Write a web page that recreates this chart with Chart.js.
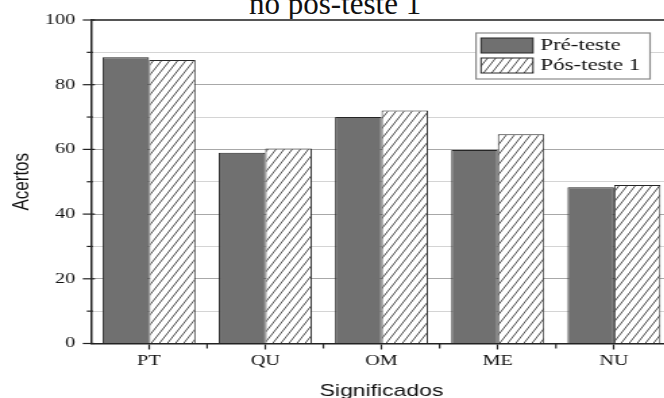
<!DOCTYPE html>
<html>
<head>
<meta charset="utf-8">
<script src="https://cdn.jsdelivr.net/npm/chart.js@4/dist/chart.umd.min.js"></script>
<style>
  html, body { margin: 0; padding: 0; background: #fff; }
  body { width: 664px; height: 398px; overflow: hidden; position: relative; }
  #caption { position: absolute; left: 249px; top: -12.5px; font: 31px/31px "Liberation Serif", "Times New Roman", serif; color: #111; white-space: nowrap; }
  #wrap { position: absolute; left: 0; top: 0; width: 500px; height: 410px; transform: scaleX(1.35); transform-origin: 0 0; }
</style>
</head>
<body>
<div id="caption">no pós-teste 1</div>
<div id="wrap"><canvas id="c"></canvas></div>
<script>
const categories = ["PT", "QU", "OM", "ME", "NU"];
const seriesNames = ["Pré-teste", "Pós-teste 1"];
const preTeste = [88.5, 59.0, 70.0, 59.8, 48.3];
const posTeste1 = [87.6, 60.3, 72.0, 64.7, 49.0];
const yTickValues = [0, 20, 40, 60, 80, 100];
const xAxisTitle = "Significados";
const yAxisTitle = "Acertos";

function makeHatch() {
  const w = 6, h = 10;
  const c = document.createElement('canvas');
  c.width = w; c.height = h;
  const g = c.getContext('2d');
  g.fillStyle = '#ffffff';
  g.fillRect(0, 0, w, h);
  g.strokeStyle = '#3a3a3a';
  g.lineWidth = 0.9;
  for (const off of [-w, 0, w]) {
    g.beginPath();
    g.moveTo(off, h);
    g.lineTo(off + w, 0);
    g.stroke();
  }
  return g.createPattern(c, 'repeat');
}
const hatch = makeHatch();
const PRE_COLOR = '#707070';
const EDGE = '#262626';

const framePlugin = {
  id: 'frame',
  afterDraw(chart) {
    const ctx = chart.ctx;
    const a = chart.chartArea;
    const y = chart.scales.y, x = chart.scales.x;
    ctx.save();
    ctx.strokeStyle = '#555';
    ctx.lineWidth = 2;
    ctx.beginPath();
    ctx.moveTo(a.left, a.top);
    ctx.lineTo(a.right + 5, a.top);
    ctx.stroke();
    ctx.strokeStyle = '#222';
    ctx.lineWidth = 1.2;
    for (let v = 0; v <= 100; v += 10) {
      const py = y.getPixelForValue(v);
      const major = yTickValues.includes(v);
      ctx.beginPath();
      ctx.moveTo(a.left - (major ? 6 : 3), py);
      ctx.lineTo(a.left + (major ? 3 : 1.5), py);
      ctx.stroke();
    }
    for (let i = 0; i < categories.length - 1; i++) {
      const px = x.getPixelForValue(i + 0.5);
      ctx.beginPath();
      ctx.moveTo(px, a.bottom);
      ctx.lineTo(px, a.bottom + 5);
      ctx.stroke();
    }
    const bx = 352.6, by = 33, bw = 128.9, bh = 46;
    ctx.fillStyle = '#fff';
    ctx.fillRect(bx, by, bw, bh);
    ctx.strokeStyle = '#8a8a8a';
    ctx.lineWidth = 1.2;
    ctx.strokeRect(bx, by, bw, bh);
    const fills = [PRE_COLOR, hatch];
    const rows = [38, 58];
    ctx.font = '17px "Liberation Serif", "Times New Roman", serif';
    ctx.textBaseline = 'middle';
    ctx.textAlign = 'left';
    chart.data.datasets.forEach((ds, i) => {
      ctx.fillStyle = fills[i];
      ctx.fillRect(356.3, rows[i], 38.5, 15);
      ctx.strokeStyle = EDGE;
      ctx.lineWidth = 1;
      ctx.strokeRect(356.3, rows[i], 38.5, 15);
      ctx.fillStyle = '#111';
      ctx.fillText(ds.label, 400.2, rows[i] + 8);
    });
    ctx.restore();
  }
};

new Chart(document.getElementById('c'), {
  type: 'bar',
  data: {
    labels: categories,
    datasets: [
      { label: seriesNames[0], data: preTeste, backgroundColor: PRE_COLOR, borderColor: EDGE, borderWidth: 1 },
      { label: seriesNames[1], data: posTeste1, backgroundColor: hatch, borderColor: EDGE, borderWidth: 1 }
    ]
  },
  options: {
    responsive: true,
    maintainAspectRatio: false,
    animation: false,
    devicePixelRatio: 1,
    layout: { padding: { top: 20, right: 2.1, bottom: 0, left: 0 } },
    datasets: { bar: { categoryPercentage: 0.8, barPercentage: 1.0 } },
    plugins: { legend: { display: false }, title: { display: false }, tooltip: { enabled: false } },
    scales: {
      x: {
        afterFit(s) { s.height = 66.5; },
        grid: { display: true, drawOnChartArea: false, offset: false, tickLength: 6, tickColor: '#222', tickWidth: 1.2 },
        border: { display: true, color: '#222', width: 1.5 },
        ticks: { color: '#111', padding: 3, font: { family: '"Liberation Serif", "Times New Roman", serif', size: 15 } },
        title: { display: true, text: xAxisTitle, color: '#111', padding: { top: 0, bottom: 8.8 }, font: { family: '"Liberation Sans", Arial, sans-serif', size: 17 } }
      },
      y: {
        min: 0, max: 100,
        afterFit(s) { s.width = 67.3; },
        grid: {
          tickLength: 6,
          tickColor: 'transparent',
          color: (c) => {
            const v = c.tick.value;
            if (v === 0 || v === 100) return 'transparent';
            return v % 20 === 0 ? '#a8a8a8' : '#d4d4d4';
          },
          lineWidth: 1
        },
        border: { display: true, color: '#222', width: 1.5 },
        ticks: {
          stepSize: 10,
          padding: 5.6,
          color: '#111',
          font: { family: '"Liberation Serif", "Times New Roman", serif', size: 15 },
          callback: (v) => yTickValues.includes(v) ? String(v) : ''
        },
        title: { display: true, text: yAxisTitle, color: '#111', padding: { top: 5.7, bottom: 0 }, font: { family: '"Liberation Sans", Arial, sans-serif', size: 17 } }
      }
    }
  },
  plugins: [framePlugin]
});
</script>
</body>
</html>
